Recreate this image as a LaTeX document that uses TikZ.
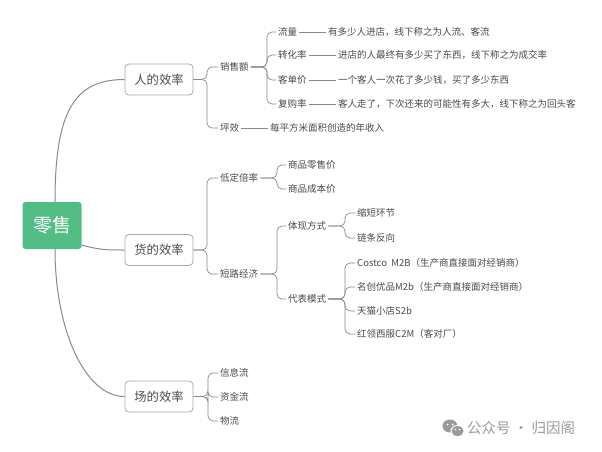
\documentclass[tikz,border=0pt]{standalone}
\usepackage{fontspec}
\setmainfont{Noto Sans CJK SC}
\usetikzlibrary{calc}
\definecolor{rootgreen}{HTML}{52BE84}
\definecolor{linegray}{HTML}{8A8A8A}
\definecolor{boxgray}{HTML}{A8A8A8}
\definecolor{txtgray}{HTML}{4A4A4A}
\definecolor{wmgray}{HTML}{9A9A9A}
\tikzset{
  rootbox/.style={draw=none,fill=rootgreen,rounded corners=3pt,minimum width=59pt,minimum height=47pt,text=white,font=\fontsize{19}{22}\selectfont,inner sep=0pt},
  mainbox/.style={draw=boxgray,line width=0.8pt,fill=white,rounded corners=4pt,minimum width=68pt,minimum height=31pt,text=txtgray,font=\fontsize{12.3}{14}\selectfont,inner sep=0pt},
  leaf/.style={anchor=west,inner sep=2pt,text=txtgray,font=\fontsize{9.5}{11}\selectfont},
  conn/.style={draw=linegray,line width=0.7pt},
  brk/.style={draw=linegray,line width=0.7pt,rounded corners=5pt},
  mainconn/.style={draw=linegray,line width=1pt}
}
\begin{document}
\begin{tikzpicture}[x=1pt,y=-1pt]
\useasboundingbox (0,0) rectangle (602,452);
\fill[white] (0,0) rectangle (602,452);

% root and main boxes
\node[rootbox] (root) at (52,225.5) {零售};
\node[mainbox] (p1) at (159,79.5) {人的效率};
\node[mainbox] (p2) at (159,250) {货的效率};
\node[mainbox] (p3) at (159,396.5) {场的效率};

\draw[mainconn] ([xshift=3pt]root.north) .. controls (55,110) and (75,79.5) .. (p1.west);
\draw[mainconn] ([yshift=4pt]root.south east) .. controls (102,250) and (104,250) .. (p2.west);
\draw[mainconn] ([xshift=3pt]root.south) .. controls (55,330) and (85,396.5) .. (p3.west);

% bracket x positions
\coordinate (bA) at (207,0);
\coordinate (bB) at (267,0);
\coordinate (bC) at (277,0);
\coordinate (bD) at (345,0);
\coordinate (bE) at (208,0);

% 人的效率
\node[leaf] (xse) at (218,67) {销售额};
\node[leaf] (pxiao) at (218,128) {坪效};
\node[leaf] (pxiaod) at (268,128) {每平方米面积创造的年收入};
\foreach \c in {xse,pxiao} \draw[brk] (p1.east) -- (p1.east -| bA) |- (\c.west);
\draw[conn] (pxiao.east) -- (pxiaod.west);

\node[leaf] (ll) at (276,32) {流量};
\node[leaf] (lld) at (326,32) {有多少人进店，线下称之为人流、客流};
\node[leaf] (zh) at (276,55) {转化率};
\node[leaf] (zhd) at (336,55) {进店的人最终有多少买了东西，线下称之为成交率};
\node[leaf] (kd) at (276,80) {客单价};
\node[leaf] (kdd) at (336,80) {一个客人一次花了多少钱，买了多少东西};
\node[leaf] (fg) at (276,104) {复购率};
\node[leaf] (fgd) at (336,104) {客人走了，下次还来的可能性有多大，线下称之为回头客};
\foreach \c in {ll,zh,kd,fg} \draw[brk] (xse.east) -- (xse.east -| bB) |- (\c.west);
\draw[conn] (ll.east) -- (lld.west);
\draw[conn] (zh.east) -- (zhd.west);
\draw[conn] (kd.east) -- (kdd.west);
\draw[conn] (fg.east) -- (fgd.west);

% 货的效率
\node[leaf] (ddb) at (218,178) {低定倍率};
\node[leaf] (dljj) at (218,274) {短路经济};
\foreach \c in {ddb,dljj} \draw[brk] (p2.east) -- (p2.east -| bA) |- (\c.west);

\node[leaf] (lsj) at (286,165) {商品零售价};
\node[leaf] (cbj) at (286,189) {商品成本价};
\foreach \c in {lsj,cbj} \draw[brk] (ddb.east) -- (ddb.east -| bC) |- (\c.west);

\node[leaf] (txfs) at (286,226) {体现方式};
\node[leaf] (dbms) at (286,299) {代表模式};
\foreach \c in {txfs,dbms} \draw[brk] (dljj.east) -- (dljj.east -| bC) |- (\c.west);

\node[leaf] (sdhj) at (355,213) {缩短环节};
\node[leaf] (ltfx) at (355,238) {链条反向};
\foreach \c in {sdhj,ltfx} \draw[brk] (txfs.east) -- (txfs.east -| bD) |- (\c.west);

\node[leaf] (cost) at (355,263) {Costco\ \ M2B（生产商直接面对经销商）};
\node[leaf] (mcyp) at (355,287) {名创优品M2b（生产商直接面对经销商）};
\node[leaf] (tmxd) at (355,311) {天猫小店S2b};
\node[leaf] (hlxf) at (355,334) {红领西服C2M（客对厂）};
\foreach \c in {cost,mcyp,tmxd,hlxf} \draw[brk] (dbms.east) -- (dbms.east -| bD) |- (\c.west);

% 场的效率
\node[leaf] (xxl) at (218,373) {信息流};
\node[leaf] (zjl) at (218,397) {资金流};
\node[leaf] (wl) at (218,421) {物流};
\foreach \c in {xxl,zjl,wl} \draw[brk] (p3.east) -- (p3.east -| bE) |- (\c.west);

% watermark
\node[anchor=west,inner sep=0pt,text=wmgray,font=\fontsize{14.5}{16}\selectfont] (wm) at (467,428) {公众号 · 归因阁};
\fill[wmgray] (450,426) ellipse (7.5pt and 6.5pt);
\fill[white] (447.5,424.5) circle (1pt);
\fill[white] (452.5,424.5) circle (1pt);
\fill[white] (457.5,431) ellipse (7pt and 6pt);
\fill[wmgray] (457.5,431) ellipse (6pt and 5pt);
\fill[white] (455.5,429.5) circle (0.8pt);
\fill[white] (459.5,429.5) circle (0.8pt);
\end{tikzpicture}
\end{document}
